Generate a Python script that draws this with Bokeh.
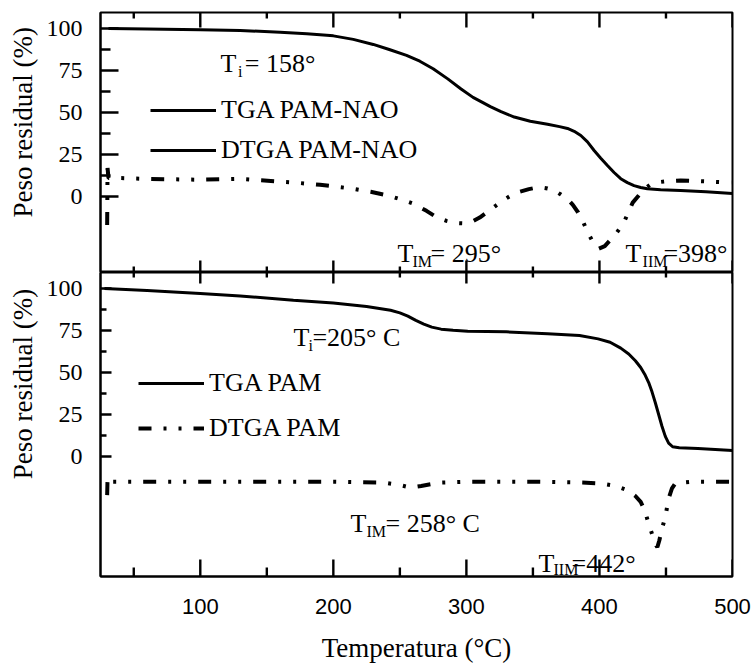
from bokeh.plotting import figure
from bokeh.models import Range1d, LinearAxis, FixedTicker, Legend, LegendItem, Label, BoxAnnotation
from bokeh.layouts import column
from bokeh.embed import file_html
from bokeh.resources import INLINE

# ---------------- data ----------------
# Top panel: PAM-NAO
tga_nao_x = [31, 60, 100, 130, 160, 180, 200, 215, 230, 242, 255, 265, 275, 286, 296, 305,
             311, 318, 326, 336, 348, 361, 370, 376, 381, 386, 391, 396, 401, 406, 411,
             416, 421, 426, 431, 436, 446, 461, 480, 500]
tga_nao_y = [100, 99.7, 99.3, 98.8, 97.8, 96.8, 95.6, 93.5, 90.5, 87.5, 84, 80.5, 76, 70,
             64, 59, 56.5, 53.5, 50.5, 47.3, 44.8, 43, 41.6, 40.5, 38.8, 36.3, 32.5, 27.4,
             22.8, 18.5, 14.3, 10.6, 8.3, 6.5, 5.4, 4.6, 4.1, 3.6, 2.8, 1.8]

dtga_nao_x = [30, 30.3, 31, 40, 60, 100, 130, 168, 190, 213, 228, 241, 252, 260, 270, 278,
              285, 292, 298, 304, 310, 316, 322, 328, 334, 340, 347, 352, 356, 361, 366,
              371, 376, 380, 384, 388, 391, 395, 399.5, 404, 408, 413, 418, 422, 425,
              429.5, 433, 438.5, 445, 452, 461, 480, 499]
dtga_nao_y = [-17, 17, 11, 11, 10.5, 10, 10.5, 8.5, 7, 4.8, 2.8, 0.6, -2, -4.2, -8.5, -12.5,
              -14.5, -15.8, -16, -15, -12.5, -9, -5.5, -2, 0.8, 2.8, 4.4, 5.2, 5.4, 4.8, 3.6,
              1.2, -1.5, -5, -9.5, -15.5, -21, -27, -31, -29.5, -26, -21.5, -16, -9, -3.6,
              0.6, 4, 7.2, 8.6, 9.2, 9.5, 9, 8.3]

# Bottom panel: PAM
tga_pam_x = [28, 60, 100, 130, 170, 200, 225, 243, 250, 256, 262, 268, 274, 281, 290, 301,
             330, 361, 385, 399, 408, 416, 422, 427, 431, 434, 437, 439.5, 442, 444.5, 447,
             449.5, 452, 455, 460, 474, 500]
tga_pam_y = [100, 98.8, 97, 95.5, 93, 91.3, 89.3, 87, 85.5, 83.5, 81, 78.8, 77, 75.8, 75.2,
             74.6, 74.2, 73, 72, 70, 68, 64.5, 61, 57, 53, 49, 44, 38.5, 32, 25, 18, 12, 8,
             5.8, 5.2, 4.8, 3.6]

dtga_pam_x = [30, 30.3, 31, 60, 100, 150, 200, 238, 250, 258, 266, 280, 300, 350, 380, 401,
              412, 421, 427, 431, 434, 437, 439.5, 442, 443.5, 445, 447, 449.5, 452, 454.5,
              457, 470, 500]
dtga_pam_y = [-23, -13, -15, -15, -15, -15, -15, -15.5, -17, -18.5, -17.5, -15.5, -15, -15,
              -15.3, -16, -17.5, -20, -23.5, -27, -32, -40, -46, -52, -54, -50, -43, -36,
              -25, -19, -16, -15, -15]

x_major = [100, 200, 300, 400, 500]
x_minor = [50, 150, 250, 350, 450]
y_major = [0, 25, 50, 75, 100]
y_minor = [12.5, 37.5, 62.5, 87.5]

legend_top = ["TGA PAM-NAO", "DTGA PAM-NAO"]
legend_bottom = ["TGA PAM", "DTGA PAM"]
y_title = "Peso residual (%)"
x_title = "Temperatura (°C)"

# annotation pieces: (text, x, y, font size)
notes_top = [
    ("T", 115.2, 79.2, "26px"), ("i", 128.3, 74.2, "16px"), ("= 158°", 133.5, 79.2, "26px"),
    ("T", 248.2, -33.9, "26px"), ("IM", 259.5, -38.7, "16px"), ("= 295°", 273.0, -33.9, "26px"),
    ("T", 419.6, -33.9, "26px"), ("IIM", 432.4, -38.7, "16px"), ("=398°", 448.1, -33.9, "26px"),
]
notes_bottom = [
    ("T", 170.1, 70.8, "26px"), ("i", 181.3, 66.1, "16px"), ("=205° C", 184.3, 70.8, "26px"),
    ("T", 212.9, -39.9, "26px"), ("IM", 224.9, -44.6, "16px"), ("= 258° C", 239.2, -39.9, "26px"),
    ("T", 354.2, -63.7, "26px"), ("IIM", 365.5, -67.3, "16px"), ("=442°", 379.0, -63.7, "26px"),
]

SERIF = "Liberation Serif"
SANS = "Liberation Sans"
DASH = "13 12 3 12 3 12"

# layout (pixels)
FIG_W = 753
B_LEFT, B_RIGHT = 100, 21
FRAME_W = FIG_W - B_LEFT - B_RIGHT
TICK_W = 2.4  # tick thickness in px

x_range = Range1d(25, 500)


def make_fig(height, y_range, b_top, b_bottom):
    p = figure(width=FIG_W, height=height, x_range=x_range, y_range=y_range,
               output_backend="svg", toolbar_location=None, x_axis_location=None,
               min_border_left=B_LEFT, min_border_right=B_RIGHT,
               min_border_top=b_top, min_border_bottom=b_bottom)
    p.grid.visible = False
    p.outline_line_color = "black"
    p.outline_line_width = 2
    p.background_fill_color = None
    p.border_fill_color = "white"
    return p


def add_ticks(p, yr, frame_h, ymaj, ymin, top_len, bot_len):
    """Inner tick marks on the frame edges at the tick values (lengths in px),
    drawn as small filled box annotations lying inside the frame."""
    ux = (x_range.end - x_range.start) / FRAME_W
    uy = (yr.end - yr.start) / frame_h
    hw_x = TICK_W / 2 * ux
    hw_y = TICK_W / 2 * uy

    def box(l, r, b, t):
        p.add_layout(BoxAnnotation(left=l, right=r, bottom=b, top=t,
                                   fill_color="black", fill_alpha=1.0,
                                   line_color=None, level="overlay"))

    def vertical(vals, edge, length, direction):
        far = edge + direction * length * uy
        for v in vals:
            box(v - hw_x, min(v + hw_x, x_range.end), min(edge, far), max(edge, far))

    def horizontal(vals, length):
        for v in vals:
            box(x_range.start, x_range.start + length * ux, v - hw_y, v + hw_y)

    vertical(x_major, yr.end, top_len[0], -1)
    vertical(x_minor, yr.end, top_len[1], -1)
    vertical(x_major, yr.start, bot_len[0], 1)
    vertical(x_minor, yr.start, bot_len[1], 1)
    horizontal(y_major, ymaj)
    horizontal(y_minor, ymin)


def style_y(ax, lead):
    ax.ticker = FixedTicker(ticks=y_major, minor_ticks=y_minor)
    ax.axis_line_color = "black"
    ax.axis_line_width = 2
    ax.major_tick_in = 0
    ax.major_tick_out = 0
    ax.minor_tick_in = 0
    ax.minor_tick_out = 0
    ax.major_label_text_font = SERIF
    ax.major_label_text_font_size = "24px"
    ax.major_label_text_color = "black"
    ax.major_label_standoff = 18
    # leading no-break spaces shift the (centred) title towards the top of the panel
    ax.axis_label = "\u00a0" * lead + y_title
    ax.axis_label_text_font = SERIF
    ax.axis_label_text_font_size = "27px"
    ax.axis_label_text_font_style = "normal"
    ax.axis_label_text_color = "black"
    ax.axis_label_standoff = 6


def add_notes(p, notes):
    for txt, x, y, size in notes:
        p.add_layout(Label(x=x, y=y, text=txt, text_font=SERIF, text_font_size=size,
                           text_color="black", text_align="left",
                           text_baseline="alphabetic"))


def make_legend(items, loc, spacing):
    return Legend(items=items, location=loc, orientation="vertical",
                  glyph_width=66, glyph_height=30, label_height=30, label_standoff=5,
                  spacing=spacing, padding=0, margin=0, border_line_color=None,
                  background_fill_alpha=0, label_text_font=SERIF,
                  label_text_font_size="26px", label_text_color="black")


# ---------------- top panel ----------------
H1, T1 = 272, 12
yr1 = Range1d(-45.2, 109.5)
p1 = make_fig(H1, yr1, T1, 0)
style_y(p1.yaxis[0], 6)

r_tga1 = p1.line(tga_nao_x, tga_nao_y, line_color="black", line_width=3)
r_dtga1 = p1.line(dtga_nao_x, dtga_nao_y, line_color="black", line_width=4, line_dash=DASH)
add_notes(p1, notes_top)
leg1 = make_legend([LegendItem(label=legend_top[0], renderers=[r_tga1]),
                    LegendItem(label=legend_top[1], renderers=[r_tga1])], (50, 107), 10)
p1.add_layout(leg1)
add_ticks(p1, yr1, H1 - T1, 18, 10, (15, 6), (12, 6))

# ---------------- bottom panel ----------------
H2, BB2 = 397, 93
yr2 = Range1d(-71.4, 109.5)
p2 = make_fig(H2, yr2, 0, BB2)
xb = LinearAxis(ticker=FixedTicker(ticks=x_major, minor_ticks=x_minor))
xb.axis_line_color = "black"
xb.axis_line_width = 2
xb.major_tick_in = 0
xb.major_tick_out = 0
xb.minor_tick_in = 0
xb.minor_tick_out = 0
xb.major_label_text_font = SANS
xb.major_label_text_font_size = "22px"
xb.major_label_text_color = "black"
xb.major_label_standoff = 22
xb.axis_label = x_title
xb.axis_label_text_font = SERIF
xb.axis_label_text_font_size = "27px"
xb.axis_label_text_font_style = "normal"
xb.axis_label_text_color = "black"
xb.axis_label_standoff = 16
p2.add_layout(xb, "below")
style_y(p2.yaxis[0], 12)

r_tga2 = p2.line(tga_pam_x, tga_pam_y, line_color="black", line_width=3)
r_dtga2 = p2.line(dtga_pam_x, dtga_pam_y, line_color="black", line_width=4, line_dash=DASH)
add_notes(p2, notes_bottom)
leg2 = make_legend([LegendItem(label=legend_bottom[0], renderers=[r_tga2]),
                    LegendItem(label=legend_bottom[1], renderers=[r_dtga2])], (38, 133), 15)
p2.add_layout(leg2)
add_ticks(p2, yr2, H2 - BB2, 11, 6, (11, 5), (17, 9))

layout = column(p1, p2, spacing=0)
open("out.html", "w").write(file_html(layout, INLINE))
